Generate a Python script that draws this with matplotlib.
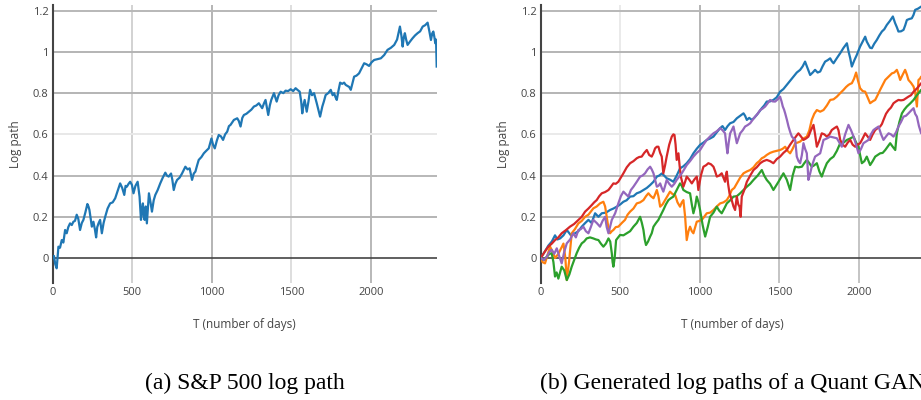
import matplotlib
matplotlib.use('Agg')
import matplotlib.pyplot as plt
import numpy as np

# S&P 500 log path
sp_t = [0, 8, 16, 25, 30, 36, 46, 57, 67, 78, 88, 98, 109, 120, 130, 140, 151, 161, 172, 183, 193, 205,
        218, 225, 231, 246, 256, 265, 273, 280, 288, 298, 309, 320, 330, 345, 361, 377, 393, 410, 424, 437,
        450, 458, 466, 477, 487, 498, 508, 520, 534, 546, 555, 562, 567, 573, 578, 585, 592, 605, 615, 624,
        635, 645, 660, 676, 692, 708, 718, 729, 744, 752, 761, 771, 782, 798, 813, 834, 848, 861, 876, 887,
        897, 908, 918, 935, 950, 965, 981, 998, 1008, 1019, 1032, 1044, 1058, 1071, 1084, 1097, 1108, 1118,
        1139, 1160, 1170, 1181, 1192, 1202, 1218, 1233, 1249, 1265, 1280, 1296, 1317, 1328, 1338, 1355,
        1365, 1374, 1391, 1408, 1420, 1433, 1450, 1464, 1480, 1496, 1512, 1527, 1540, 1553, 1562, 1569,
        1576, 1584, 1597, 1608, 1618, 1630, 1643, 1660, 1670, 1681, 1695, 1705, 1716, 1732, 1748, 1760,
        1769, 1778, 1786, 1796, 1807, 1820, 1832, 1842, 1853, 1864, 1874, 1885, 1895, 1910, 1926, 1942,
        1958, 1973, 1989, 2005, 2021, 2042, 2063, 2084, 2105, 2126, 2147, 2165, 2183, 2192, 2200, 2207,
        2214, 2222, 2231, 2246, 2262, 2278, 2294, 2310, 2326, 2342, 2357, 2368, 2378, 2386, 2393, 2400,
        2405, 2410, 2414]
sp_v = [0.0, 0.01, -0.03, -0.05, 0.0, 0.055, 0.05, 0.087, 0.075, 0.136, 0.12, 0.15, 0.168, 0.16, 0.176,
        0.18, 0.21, 0.19, 0.136, 0.17, 0.185, 0.22, 0.262, 0.25, 0.233, 0.152, 0.176, 0.14, 0.10, 0.15,
        0.168, 0.185, 0.12, 0.17, 0.2, 0.24, 0.265, 0.27, 0.29, 0.33, 0.362, 0.34, 0.306, 0.35, 0.346,
        0.36, 0.37, 0.355, 0.314, 0.35, 0.37, 0.298, 0.185, 0.24, 0.265, 0.2, 0.185, 0.25, 0.168, 0.314,
        0.27, 0.225, 0.28, 0.306, 0.33, 0.362, 0.39, 0.414, 0.40, 0.395, 0.41, 0.38, 0.33, 0.36, 0.379,
        0.39, 0.41, 0.443, 0.43, 0.435, 0.379, 0.41, 0.419, 0.45, 0.476, 0.49, 0.508, 0.52, 0.532, 0.58,
        0.55, 0.532, 0.57, 0.597, 0.59, 0.573, 0.6, 0.613, 0.64, 0.646, 0.67, 0.678, 0.665, 0.638, 0.68,
        0.694, 0.70, 0.71, 0.72, 0.735, 0.74, 0.751, 0.727, 0.75, 0.767, 0.694, 0.74, 0.767, 0.80, 0.759,
        0.79, 0.807, 0.80, 0.812, 0.81, 0.819, 0.81, 0.824, 0.815, 0.807, 0.76, 0.702, 0.74, 0.767, 0.71,
        0.76, 0.816, 0.79, 0.80, 0.751, 0.72, 0.686, 0.735, 0.76, 0.791, 0.80, 0.816, 0.79, 0.80, 0.78,
        0.767, 0.81, 0.851, 0.845, 0.851, 0.84, 0.835, 0.83, 0.816, 0.85, 0.88, 0.885, 0.896, 0.92, 0.945,
        0.94, 0.932, 0.95, 0.961, 0.965, 0.969, 0.985, 1.01, 1.02, 1.034, 1.06, 1.123, 1.08, 1.026, 1.07,
        1.091, 1.06, 1.034, 1.05, 1.066, 1.08, 1.091, 1.10, 1.123, 1.13, 1.142, 1.10, 1.058, 1.09, 1.099,
        1.07, 1.042, 1.06, 0.929]

# Generated Quant GAN log paths (right panel)
blue_t = [0, 25, 48, 70, 90, 105, 122, 143, 164, 190, 216, 237, 258, 280, 300, 320, 342, 363, 384, 410,
          436, 457, 478, 500, 520, 540, 562, 583, 604, 625, 646, 667, 688, 709, 730, 745, 761, 776, 792,
          813, 834, 855, 876, 897, 918, 939, 960, 981, 1002, 1023, 1044, 1065, 1086, 1107, 1128, 1143, 1159,
          1175, 1191, 1212, 1233, 1254, 1275, 1285, 1296, 1311, 1327, 1342, 1358, 1374, 1390, 1405, 1421,
          1442, 1463, 1484, 1505, 1526, 1547, 1568, 1589, 1610, 1631, 1647, 1662, 1678, 1694, 1710, 1725,
          1741, 1757, 1772, 1788, 1804, 1820, 1830, 1841, 1862, 1883, 1904, 1925, 1936, 1946, 1956, 1972,
          1987, 2008, 2024, 2040, 2050, 2061, 2071, 2082, 2097, 2113, 2129, 2145, 2160, 2176, 2195, 2214,
          2228, 2239, 2249, 2265, 2281, 2292, 2302, 2318, 2333, 2344, 2354, 2372, 2392, 2410]
blue_v = [0.0, 0.03, 0.06, 0.08, 0.11, 0.09, 0.095, 0.11, 0.136, 0.11, 0.12, 0.13, 0.152, 0.17, 0.185,
          0.17, 0.217, 0.20, 0.217, 0.22, 0.233, 0.24, 0.249, 0.26, 0.273, 0.28, 0.298, 0.30, 0.314, 0.32,
          0.33, 0.34, 0.354, 0.37, 0.395, 0.40, 0.41, 0.40, 0.387, 0.38, 0.37, 0.40, 0.435, 0.445, 0.46,
          0.48, 0.508, 0.53, 0.549, 0.56, 0.573, 0.58, 0.589, 0.61, 0.63, 0.64, 0.621, 0.64, 0.654, 0.66,
          0.678, 0.69, 0.702, 0.69, 0.67, 0.68, 0.67, 0.68, 0.694, 0.71, 0.727, 0.74, 0.759, 0.76, 0.767,
          0.78, 0.807, 0.82, 0.84, 0.86, 0.88, 0.90, 0.913, 0.93, 0.953, 0.92, 0.888, 0.90, 0.913, 0.90,
          0.905, 0.93, 0.953, 0.96, 0.969, 0.955, 0.945, 0.97, 0.994, 1.02, 1.042, 1.0, 0.969, 0.929, 0.96,
          0.985, 1.026, 1.05, 1.074, 1.05, 1.034, 1.02, 1.018, 1.04, 1.058, 1.08, 1.099, 1.11, 1.131, 1.15,
          1.172, 1.14, 1.12, 1.099, 1.10, 1.107, 1.13, 1.155, 1.16, 1.163, 1.18, 1.204, 1.21, 1.22, 1.225]

orange_t = [0, 12, 27, 45, 59, 75, 90, 111, 130, 143, 155, 164, 178, 195, 215, 237, 258, 279, 300, 331,
            352, 373, 394, 405, 415, 425, 436, 447, 457, 472, 488, 510, 530, 546, 562, 583, 604, 625, 646,
            662, 677, 693, 709, 720, 730, 740, 751, 766, 782, 797, 813, 829, 845, 860, 876, 887, 897, 908,
            918, 929, 939, 950, 960, 971, 981, 997, 1013, 1028, 1044, 1065, 1086, 1107, 1128, 1149, 1170,
            1185, 1201, 1217, 1233, 1254, 1275, 1296, 1317, 1338, 1358, 1374, 1390, 1405, 1421, 1442, 1463,
            1484, 1505, 1521, 1537, 1552, 1568, 1584, 1600, 1615, 1631, 1652, 1673, 1689, 1704, 1720, 1736,
            1757, 1778, 1799, 1820, 1841, 1862, 1883, 1904, 1920, 1935, 1946, 1956, 1970, 1983, 1995, 2008,
            2024, 2040, 2055, 2071, 2087, 2103, 2118, 2134, 2150, 2166, 2187, 2208, 2223, 2239, 2250, 2260,
            2276, 2291, 2302, 2312, 2328, 2344, 2355, 2365, 2370, 2375, 2384, 2392, 2410]
orange_v = [0.0, -0.02, -0.026, 0.02, 0.055, 0.03, 0.0, 0.02, 0.05, 0.07, 0.0, -0.107, -0.02, 0.12, 0.14,
            0.168, 0.18, 0.2, 0.21, 0.241, 0.25, 0.265, 0.273, 0.25, 0.2, 0.15, 0.12, 0.13, 0.136, 0.15,
            0.152, 0.17, 0.185, 0.21, 0.225, 0.24, 0.265, 0.27, 0.281, 0.30, 0.314, 0.30, 0.29, 0.31, 0.33,
            0.30, 0.249, 0.26, 0.281, 0.30, 0.322, 0.31, 0.306, 0.27, 0.249, 0.27, 0.281, 0.20, 0.087, 0.13,
            0.152, 0.13, 0.12, 0.15, 0.176, 0.18, 0.185, 0.20, 0.217, 0.22, 0.233, 0.25, 0.265, 0.27, 0.281,
            0.30, 0.33, 0.34, 0.362, 0.39, 0.411, 0.42, 0.427, 0.44, 0.46, 0.47, 0.484, 0.49, 0.50, 0.51,
            0.516, 0.52, 0.524, 0.53, 0.54, 0.52, 0.508, 0.53, 0.557, 0.56, 0.565, 0.58, 0.589, 0.62, 0.67,
            0.70, 0.718, 0.71, 0.718, 0.74, 0.767, 0.77, 0.783, 0.80, 0.816, 0.83, 0.84, 0.845, 0.848, 0.87,
            0.90, 0.86, 0.824, 0.81, 0.807, 0.78, 0.751, 0.76, 0.767, 0.79, 0.816, 0.84, 0.864, 0.88, 0.896,
            0.90, 0.913, 0.89, 0.864, 0.89, 0.913, 0.89, 0.864, 0.85, 0.832, 0.80, 0.735, 0.80, 0.864, 0.87,
            0.88, 0.88]

green_t = [0, 20, 38, 55, 69, 80, 90, 100, 111, 122, 132, 148, 164, 180, 195, 210, 226, 242, 258, 273,
           289, 310, 331, 347, 363, 378, 394, 410, 426, 437, 447, 452, 457, 465, 474, 487, 499, 520, 541,
           562, 583, 604, 625, 636, 646, 654, 662, 675, 688, 698, 709, 725, 740, 756, 771, 787, 803, 818,
           834, 855, 876, 887, 897, 918, 939, 950, 960, 971, 981, 992, 1002, 1018, 1034, 1050, 1065, 1086,
           1107, 1122, 1138, 1154, 1170, 1191, 1212, 1233, 1254, 1275, 1296, 1317, 1338, 1364, 1390, 1405,
           1421, 1442, 1463, 1479, 1495, 1510, 1526, 1547, 1568, 1584, 1600, 1621, 1642, 1657, 1673, 1689,
           1704, 1720, 1736, 1752, 1767, 1783, 1799, 1820, 1841, 1862, 1883, 1904, 1925, 1946, 1967, 1983,
           1998, 2008, 2019, 2035, 2050, 2061, 2071, 2087, 2103, 2118, 2134, 2150, 2166, 2181, 2197, 2213,
           2229, 2239, 2255, 2271, 2286, 2302, 2323, 2344, 2365, 2392, 2410]
green_v = [0.0, -0.01, 0.006, 0.02, 0.023, -0.02, -0.09, -0.07, -0.1, -0.07, -0.042, -0.06, -0.107,
           -0.08, -0.042, -0.01, 0.023, 0.05, 0.071, 0.08, 0.095, 0.10, 0.095, 0.09, 0.087, 0.07, 0.055,
           0.07, 0.095, 0.08, 0.023, -0.02, -0.042, 0.0, 0.087, 0.10, 0.112, 0.11, 0.12, 0.13, 0.152, 0.17,
           0.2, 0.17, 0.136, 0.09, 0.063, 0.08, 0.104, 0.12, 0.152, 0.17, 0.185, 0.21, 0.233, 0.26, 0.281,
           0.29, 0.298, 0.33, 0.362, 0.35, 0.33, 0.32, 0.314, 0.26, 0.217, 0.25, 0.298, 0.27, 0.233, 0.16,
           0.104, 0.15, 0.2, 0.22, 0.249, 0.23, 0.217, 0.24, 0.265, 0.28, 0.298, 0.30, 0.314, 0.33, 0.346,
           0.36, 0.379, 0.40, 0.427, 0.40, 0.379, 0.36, 0.33, 0.35, 0.37, 0.39, 0.411, 0.38, 0.33, 0.40,
           0.443, 0.44, 0.443, 0.46, 0.476, 0.46, 0.443, 0.45, 0.46, 0.42, 0.395, 0.43, 0.46, 0.48, 0.492,
           0.52, 0.557, 0.56, 0.573, 0.58, 0.589, 0.56, 0.54, 0.50, 0.46, 0.47, 0.492, 0.47, 0.451, 0.47,
           0.492, 0.50, 0.508, 0.51, 0.524, 0.54, 0.557, 0.54, 0.524, 0.605, 0.66, 0.702, 0.72, 0.735,
           0.75, 0.767, 0.79, 0.816, 0.82]

red_t = [0, 25, 48, 70, 90, 111, 132, 158, 184, 210, 237, 258, 279, 300, 321, 336, 352, 368, 384, 405,
         426, 441, 457, 472, 488, 504, 520, 541, 562, 583, 604, 619, 635, 651, 667, 682, 698, 709, 719,
         730, 740, 751, 761, 766, 771, 782, 792, 808, 824, 834, 841, 848, 855, 860, 866, 873, 881, 889,
         897, 908, 918, 934, 950, 965, 981, 986, 991, 1007, 1023, 1039, 1054, 1070, 1086, 1097, 1107,
         1122, 1138, 1149, 1159, 1164, 1170, 1178, 1187, 1194, 1201, 1212, 1222, 1228, 1233, 1242, 1250,
         1257, 1264, 1280, 1296, 1317, 1338, 1358, 1380, 1400, 1421, 1442, 1463, 1484, 1505, 1526, 1547,
         1568, 1589, 1605, 1620, 1636, 1652, 1668, 1683, 1699, 1715, 1725, 1736, 1752, 1767, 1783, 1799,
         1815, 1830, 1846, 1862, 1872, 1883, 1898, 1914, 1930, 1946, 1961, 1977, 1993, 2008, 2024, 2040,
         2055, 2071, 2087, 2103, 2118, 2134, 2145, 2155, 2171, 2187, 2202, 2218, 2234, 2249, 2265, 2281,
         2296, 2312, 2328, 2344, 2368, 2392, 2410]
red_v = [0.0, 0.03, 0.055, 0.07, 0.087, 0.10, 0.12, 0.135, 0.152, 0.165, 0.185, 0.20, 0.225, 0.24, 0.257,
         0.27, 0.281, 0.30, 0.314, 0.32, 0.33, 0.345, 0.362, 0.36, 0.37, 0.39, 0.411, 0.44, 0.46, 0.47,
         0.484, 0.49, 0.492, 0.51, 0.524, 0.50, 0.492, 0.51, 0.532, 0.54, 0.54, 0.51, 0.492, 0.45, 0.411,
         0.45, 0.492, 0.55, 0.589, 0.60, 0.597, 0.55, 0.476, 0.49, 0.508, 0.45, 0.395, 0.37, 0.346, 0.37,
         0.395, 0.38, 0.362, 0.38, 0.395, 0.37, 0.33, 0.40, 0.443, 0.45, 0.46, 0.455, 0.443, 0.42, 0.395,
         0.40, 0.411, 0.39, 0.37, 0.40, 0.419, 0.36, 0.314, 0.30, 0.281, 0.25, 0.233, 0.27, 0.298, 0.26,
         0.249, 0.20, 0.298, 0.33, 0.37, 0.40, 0.427, 0.44, 0.46, 0.47, 0.476, 0.47, 0.46, 0.48, 0.492,
         0.51, 0.524, 0.55, 0.573, 0.59, 0.605, 0.59, 0.573, 0.58, 0.589, 0.62, 0.646, 0.60, 0.54, 0.57,
         0.605, 0.60, 0.589, 0.60, 0.621, 0.63, 0.638, 0.62, 0.573, 0.55, 0.54, 0.56, 0.573, 0.55, 0.54,
         0.55, 0.557, 0.58, 0.605, 0.59, 0.573, 0.60, 0.621, 0.63, 0.638, 0.65, 0.67, 0.70, 0.718, 0.73,
         0.751, 0.76, 0.767, 0.765, 0.767, 0.775, 0.783, 0.79, 0.807, 0.825, 0.848, 0.85]

purple_t = [0, 20, 38, 55, 69, 85, 101, 116, 132, 148, 164, 185, 205, 221, 237, 252, 268, 284, 300, 315,
            331, 352, 373, 389, 405, 415, 426, 436, 447, 457, 468, 478, 488, 504, 520, 535, 551, 567, 583,
            604, 625, 640, 656, 672, 688, 698, 709, 719, 730, 740, 751, 761, 771, 782, 792, 808, 824, 840,
            855, 871, 887, 902, 918, 939, 960, 981, 1002, 1023, 1044, 1065, 1086, 1107, 1128, 1143, 1159,
            1167, 1174, 1182, 1191, 1201, 1212, 1222, 1233, 1243, 1254, 1270, 1285, 1301, 1317, 1332, 1348,
            1364, 1380, 1395, 1411, 1426, 1442, 1458, 1474, 1490, 1505, 1514, 1522, 1530, 1537, 1548, 1558,
            1569, 1579, 1590, 1600, 1605, 1610, 1621, 1631, 1642, 1652, 1662, 1673, 1678, 1683, 1694, 1704,
            1715, 1725, 1741, 1757, 1767, 1778, 1799, 1820, 1841, 1862, 1878, 1893, 1914, 1935, 1951, 1967,
            1983, 1998, 2014, 2029, 2045, 2061, 2076, 2092, 2108, 2124, 2140, 2155, 2171, 2187, 2202, 2218,
            2234, 2249, 2265, 2281, 2296, 2312, 2328, 2344, 2354, 2365, 2378, 2392, 2410]
purple_v = [0.0, -0.01, 0.006, 0.03, 0.04, 0.02, 0.047, 0.01, -0.026, 0.03, 0.071, 0.09, 0.12, 0.10,
            0.136, 0.14, 0.152, 0.13, 0.12, 0.15, 0.185, 0.17, 0.152, 0.18, 0.2, 0.15, 0.12, 0.15, 0.185,
            0.20, 0.217, 0.24, 0.265, 0.30, 0.322, 0.31, 0.298, 0.33, 0.346, 0.37, 0.395, 0.40, 0.411,
            0.43, 0.443, 0.43, 0.411, 0.38, 0.346, 0.35, 0.362, 0.34, 0.322, 0.35, 0.379, 0.36, 0.346,
            0.36, 0.379, 0.395, 0.411, 0.43, 0.451, 0.47, 0.492, 0.51, 0.524, 0.55, 0.573, 0.59, 0.605,
            0.615, 0.63, 0.62, 0.605, 0.55, 0.508, 0.56, 0.605, 0.62, 0.638, 0.60, 0.557, 0.58, 0.605,
            0.62, 0.638, 0.645, 0.654, 0.67, 0.686, 0.70, 0.718, 0.725, 0.735, 0.75, 0.767, 0.76, 0.759,
            0.77, 0.783, 0.76, 0.735, 0.72, 0.702, 0.67, 0.638, 0.61, 0.589, 0.58, 0.573, 0.53, 0.492,
            0.47, 0.46, 0.50, 0.557, 0.53, 0.508, 0.44, 0.379, 0.41, 0.443, 0.47, 0.492, 0.50, 0.508,
            0.54, 0.573, 0.58, 0.589, 0.585, 0.581, 0.56, 0.54, 0.60, 0.646, 0.62, 0.589, 0.55, 0.508,
            0.53, 0.557, 0.565, 0.573, 0.60, 0.621, 0.63, 0.638, 0.60, 0.573, 0.59, 0.605, 0.60, 0.589,
            0.61, 0.638, 0.66, 0.686, 0.69, 0.702, 0.715, 0.727, 0.70, 0.686, 0.64, 0.605, 0.60]

x_ticks = [0, 500, 1000, 1500, 2000]
y_ticks = [0, 0.2, 0.4, 0.6, 0.8, 1, 1.2]
y_tick_labels = ['0', '0.2', '0.4', '0.6', '0.8', '1', '1.2']
captions = ['(a) S&P 500 log path', '(b) Generated log paths of a Quant GAN']

paths = [(blue_t, blue_v, '#1f77b4'), (orange_t, orange_v, '#ff7f0e'), (green_t, green_v, '#2ca02c'),
         (red_t, red_v, '#d62728'), (purple_t, purple_v, '#9467bd')]

W, H = 921, 400
fig = plt.figure(figsize=(W / 100, H / 100), dpi=100)
plt.rcParams['font.family'] = ['Open Sans', 'DejaVu Sans']

ax_w = (437 - 52.7) / W
ax_b = 1 - 283 / H
ax_h = (283 - 5) / H
ax1 = fig.add_axes([52.7 / W, ax_b, ax_w, ax_h])
ax2 = fig.add_axes([540.7 / W, ax_b, ax_w, ax_h])


def style_axis(ax, vshades, hshades):
    ax.set_xlim(0, 2416)
    ax.set_ylim(-0.1213, 1.2277)
    for x, c in zip(x_ticks[1:], vshades):
        ax.axvline(x, color=c, lw=1.4, zorder=0)
    for y, c in zip(y_ticks[1:], hshades):
        ax.axhline(y, color=c, lw=1.4, zorder=0)
    ax.axhline(0, color='#444444', lw=1.2, zorder=1)
    for s in ['top', 'right', 'bottom']:
        ax.spines[s].set_visible(False)
    ax.spines['left'].set_color('#444444')
    ax.spines['left'].set_linewidth(1.5)
    ax.set_xticks(x_ticks)
    ax.set_yticks(y_ticks)
    ax.set_yticklabels(y_tick_labels)
    ax.tick_params(length=0, labelsize=8, colors='#444444', pad=3)
    ax.set_xlabel('T (number of days)', fontsize=8.5, color='#444444', labelpad=14)
    ax.set_ylabel('Log path', fontsize=8.5, color='#444444', labelpad=8)


style_axis(ax1, ['#d2d2d2', '#b4b4b4', '#dedede', '#b8b8b8'],
           ['#b4b4b4', '#b8b8b8', '#e8e8e8', '#b4b4b4', '#b4b4b4', '#b8b8b8'])
style_axis(ax2, ['#eaeaea', '#b4b4b4', '#c4c4c4', '#c4c4c4'],
           ['#b4b4b4', '#b8b8b8', '#eaeaea', '#b4b4b4', '#b4b4b4', '#b8b8b8'])

ax1.plot(sp_t, sp_v, color='#1f77b4', lw=1.6, zorder=3)
for t, v, c in paths:
    ax2.plot(t, v, color=c, lw=1.6, zorder=3)

# captions sit under each panel; the second one runs past the right edge as in the source
for ax, cap in zip([ax1, ax2], captions):
    fig.text(ax.get_position().x0 + ax_w / 2, 1 - 383 / H, cap, ha='center', va='center',
             fontsize=17, family='Liberation Serif', color='black')

fig.savefig('out.png', dpi=100)
